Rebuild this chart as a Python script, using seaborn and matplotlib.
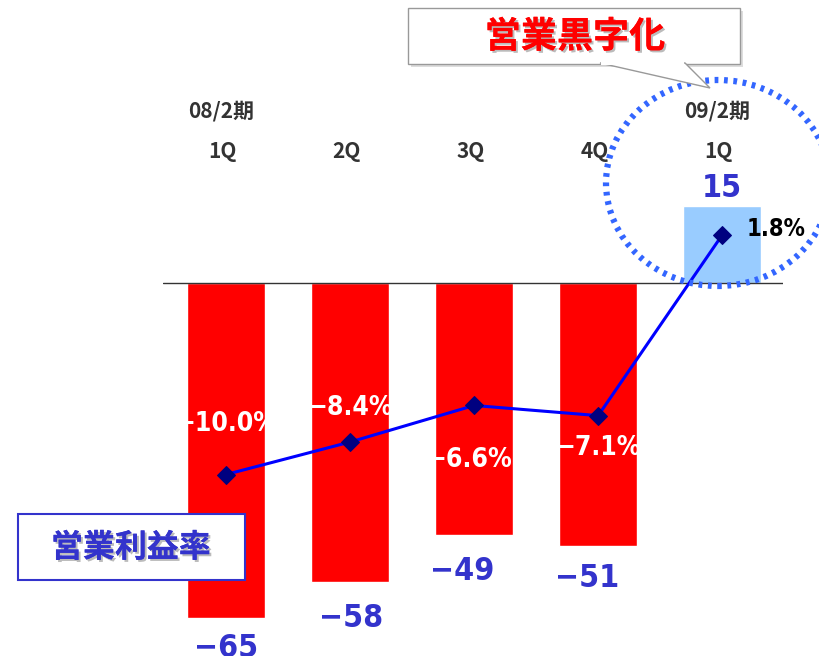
import matplotlib
matplotlib.use("Agg")
import matplotlib.pyplot as plt
from matplotlib.patches import Ellipse, Rectangle, Polygon
import matplotlib.patheffects as pe
import numpy as np
import pandas as pd
import seaborn as sns

# data
quarters = ['08/2期 1Q', '2Q', '3Q', '4Q', '09/2期 1Q']
quarter_labels = ['1Q', '2Q', '3Q', '4Q', '1Q']
period_labels = ['08/2期', '', '', '', '09/2期']
op_income = [-65, -58, -49, -51, 15]
op_margin = [-10.0, -8.4, -6.6, -7.1, 1.8]
bar_colors = ['#FF0000', '#FF0000', '#FF0000', '#FF0000', '#99CCFF']

sns.set_theme(style='white')
plt.rcParams['font.family'] = ['DejaVu Sans', 'Noto Sans CJK JP']
cjk = ['Noto Sans CJK JP', 'DejaVu Sans']
narrow = dict(family='DejaVu Sans', fontstretch='condensed', fontweight='bold')

W, H = 819, 656
fig = plt.figure(figsize=(W / 100, H / 100), dpi=100)

# axes spans x pixels 163..783, full height
ax = fig.add_axes([163 / W, 0, 620 / W, 1])
df = pd.DataFrame({'q': quarters, 'v': op_income})
sns.barplot(data=df, x='q', y='v', hue='q', palette=bar_colors,
            width=0.63, saturation=1, legend=False, ax=ax)
ax.set_xlim(-0.508, 4.49)
ax.set_ylim(-(H - 283) / 5.15, 283 / 5.15)
ax.axhline(0, color='#333333', lw=1)
ax.axis('off')

# value labels (offsets in data units, tuned by eye)
val_dx = [0.0, 0.01, -0.095, -0.086, 0.0]
val_dy = [3.0, 4.1, 4.1, 3.3, 0.3]
for i, v in enumerate(op_income):
    if v < 0:
        ax.text(i + val_dx[i], v - val_dy[i], f'−{abs(v)}', ha='center', va='top',
                color='#3333CC', fontsize=23, **narrow)
    else:
        ax.text(i + val_dx[i], v + val_dy[i], f'{v}', ha='center', va='bottom',
                color='#3333CC', fontsize=23, **narrow)

# category labels
for i, (q, p) in enumerate(zip(quarter_labels, period_labels)):
    ax.text(i - 0.03, 25.6, q, ha='center', va='center', color='#333333',
            fontsize=15, fontweight='bold', family=cjk)
    if p:
        ax.text(i - 0.04, 33.4, p, ha='center', va='center', color='#333333',
                fontsize=15, fontweight='bold', family=cjk)

# margin line on twin axis
ax2 = ax.twinx()
sns.lineplot(x=np.arange(len(op_margin)), y=op_margin, color='#0000FF', lw=2.2,
             marker='D', markersize=9, markerfacecolor='#000080',
             markeredgecolor='#000080', ax=ax2)
ax2.set_ylim(-(H - 271.5) / 20.3, 271.5 / 20.3)
ax2.set_xlim(ax.get_xlim())
ax2.axis('off')

pct_pos = [(0.0, 2.5), (0.0, 1.7), (-0.04, -2.7), (0.0, -1.6)]
for i, m in enumerate(op_margin[:4]):
    dx, dy = pct_pos[i]
    ax2.text(i + dx, m + dy, f'−{abs(m):.1f}%', ha='center', va='center',
             color='white', fontsize=19, **narrow)
ax2.text(4.2, op_margin[4] + 0.3, f'{op_margin[4]:.1f}%', ha='left', va='center',
         color='black', fontsize=17, **narrow)

# figure-level annotations in pixel coordinates
def px(x, y):
    return (x / W, 1 - y / H)

tf = fig.transFigure
ell = Ellipse(px(718, 183), 224 / W, 206 / H, transform=tf, fill=False,
              edgecolor='#3366FF', lw=4.5, linestyle=(0, (0.6, 0.9)))
fig.patches.append(ell)

# callout box
shadow = Rectangle(px(411, 67), 332 / W, 56 / H, transform=tf, facecolor='#DDDDDD',
                   edgecolor='none', zorder=1)
box = Rectangle(px(408, 64), 332 / W, 56 / H, transform=tf, facecolor='white',
                edgecolor='#999999', lw=1, zorder=2)
tail = Polygon([px(600, 63), px(685, 63), px(710, 88)], closed=True, transform=tf,
               facecolor='white', edgecolor='#999999', lw=1, zorder=2)
cover = Rectangle(px(601, 65), 83 / W, 3 / H, transform=tf, facecolor='white',
                  edgecolor='none', zorder=3)
fig.patches.extend([shadow, box, tail, cover])
fig.text(*px(575, 37), '営業黒字化', ha='center', va='center', color='#FF0000',
         fontsize=26, fontweight='bold', family=cjk, zorder=4,
         path_effects=[pe.withSimplePatchShadow(offset=(1.5, -1.5), shadow_rgbFace='#BBBBBB', alpha=1), pe.Normal()])

# margin legend box
box2 = Rectangle(px(18, 580), 227 / W, 66 / H, transform=tf, facecolor='white',
                 edgecolor='#3333CC', lw=1.5, zorder=5)
fig.patches.append(box2)
fig.text(*px(131, 548), '営業利益率', ha='center', va='center', color='#3333CC',
         fontsize=23, fontweight='bold', family=cjk, zorder=6,
         path_effects=[pe.withSimplePatchShadow(offset=(1.5, -1.5), shadow_rgbFace='#BBBBBB', alpha=1), pe.Normal()])

fig.savefig('out.png', dpi=100)
